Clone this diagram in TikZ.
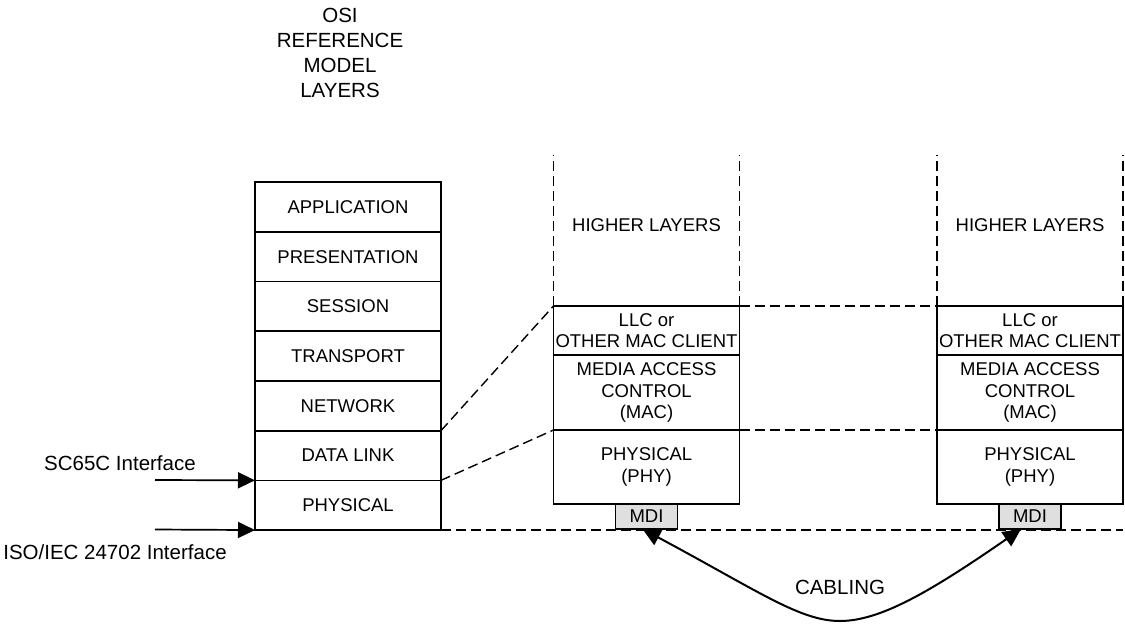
\documentclass[tikz,border=0pt]{standalone}
\usepackage{fontspec}
\setmainfont{Liberation Sans}
\usetikzlibrary{positioning, arrows.meta}

\tikzset{
  layer/.style={draw, line width=1.7pt, outer sep=0pt, minimum width=186pt, minimum height=49.7pt, inner sep=0pt, align=center, font=\fontsize{18.5}{21.5}\selectfont},
  mdi/.style={draw, line width=1.7pt, outer sep=0pt, fill=gray!25, minimum width=62pt, minimum height=25pt, inner sep=0pt, font=\fontsize{18.5}{21.5}\selectfont},
  lbl/.style={align=center, font=\fontsize{20.5}{25}\selectfont},
  boxlbl/.style={align=center, font=\fontsize{18.5}{21.5}\selectfont},
  dashline/.style={dash pattern=on 10pt off 5pt, line width=1.4pt},
  tip/.style={-{Triangle[length=17pt,width=16pt]}, line width=1.7pt}
}

\begin{document}
\begin{tikzpicture}[x=1pt, y=-1pt]
    \useasboundingbox (0,0) rectangle (1125,624);
    % OSI reference model
    \node [lbl] (title) at (340,53) {OSI\\REFERENCE\\MODEL\\LAYERS};
    \node [layer] (app) at (348,207) {APPLICATION};
    \node [layer, below=0pt of app] (pres) {PRESENTATION};
    \node [layer, below=0pt of pres] (sess) {SESSION};
    \node [layer, below=0pt of sess] (trans) {TRANSPORT};
    \node [layer, below=0pt of trans] (net) {NETWORK};
    \node [layer, below=0pt of net] (dl) {DATA LINK};
    \node [layer, below=0pt of dl] (phys) {PHYSICAL};
    % Interfaces
    \coordinate (scin) at (155,480);
    \coordinate (isoin) at (155,529.5);
    \draw [tip] (scin) -- (dl.south west);
    \draw [tip] (isoin) -- (phys.south west);
    \node [lbl] (sclbl) at (120,463) {SC65C Interface};
    \node [lbl] (isolbl) at (115,552) {ISO/IEC 24702 Interface};
    % First station
    \node [layer, minimum height=49pt] (llc1) at (646.5,330.5) {LLC or\\OTHER MAC CLIENT};
    \node [layer, minimum height=75pt, below=0pt of llc1] (mac1) {MEDIA ACCESS\\CONTROL\\(MAC)};
    \node [layer, minimum height=74pt, below=0pt of mac1] (phy1) {PHYSICAL\\(PHY)};
    \node [mdi, below=0pt of phy1] (mdi1) {MDI};
    \node [boxlbl] (hl1) at (646.5,225) {HIGHER LAYERS};
    \draw [dashline] (llc1.north west) -- ++(0,-151);
    \draw [dashline] (llc1.north east) -- ++(0,-151);
    % Second station
    \node [layer, minimum height=49pt] (llc2) at (1030,330.5) {LLC or\\OTHER MAC CLIENT};
    \node [layer, minimum height=75pt, below=0pt of llc2] (mac2) {MEDIA ACCESS\\CONTROL\\(MAC)};
    \node [layer, minimum height=74pt, below=0pt of mac2] (phy2) {PHYSICAL\\(PHY)};
    \node [mdi, below=0pt of phy2] (mdi2) {MDI};
    \node [boxlbl] (hl2) at (1030,225) {HIGHER LAYERS};
    \draw [dashline] (llc2.north west) -- ++(0,-151);
    \draw [dashline] (llc2.north east) -- ++(0,-151);
    % Mapping lines
    \draw [dashline] (net.south east) -- (llc1.north west);
    \draw [dashline] (dl.south east) -- (phy1.north west);
    \draw [dashline] (llc1.north east) -- (llc2.north west);
    \draw [dashline] (phy1.north east) -- (phy2.north west);
    \draw [dashline] (phys.south east) -- (phys.south east -| llc2.east);
    % Cabling
    \draw [{Triangle[length=18pt,width=17pt]}-{Triangle[length=18pt,width=17pt]}, line width=2pt]
        ([xshift=-4pt]mdi1.south) .. controls (760,592) and (800,621) .. (840,621)
        .. controls (880,621) and (930,592) .. ([xshift=-9pt]mdi2.south);
    \node [lbl] (cab) at (840,587) {CABLING};
\end{tikzpicture}
\end{document}
